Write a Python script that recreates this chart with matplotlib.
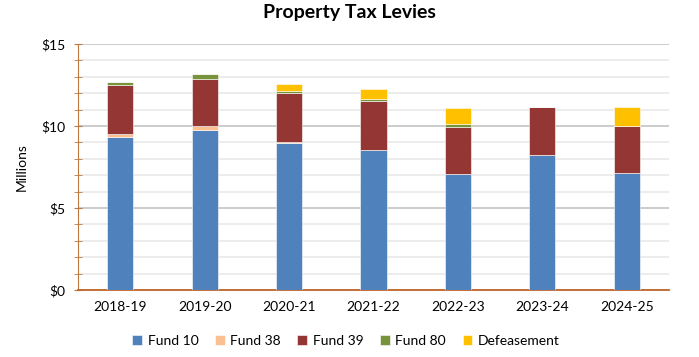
import matplotlib
matplotlib.use("Agg")
import matplotlib.pyplot as plt
from matplotlib.ticker import MultipleLocator, FuncFormatter
import numpy as np

# data (millions)
years = ["2018-19", "2019-20", "2020-21", "2021-22", "2022-23", "2023-24", "2024-25"]
fund10 = [9.31, 9.76, 8.94, 8.54, 7.05, 8.23, 7.11]
fund38 = [0.18, 0.22, 0.08, 0.0, 0.0, 0.0, 0.0]
fund39 = [3.01, 2.87, 3.01, 2.98, 2.91, 2.91, 2.91]
fund80 = [0.18, 0.32, 0.10, 0.13, 0.14, 0.0, 0.0]
defeasement = [0.0, 0.0, 0.43, 0.59, 1.0, 0.0, 1.12]

series = [
    ("Fund 10", fund10, "#4F81BD"),
    ("Fund 38", fund38, "#FAC090"),
    ("Fund 39", fund39, "#943634"),
    ("Fund 80", fund80, "#77933C"),
    ("Defeasement", defeasement, "#FFC000"),
]

plt.rcParams['font.family'] = ['Lato', 'DejaVu Sans']

fig = plt.figure(figsize=(6.99, 3.57), dpi=100)
ax = fig.add_axes([0.1116, 0.1877, 0.8454, 0.6891])

x = np.arange(len(years))
bottom = np.zeros(len(years))
for name, vals, color in series:
    vals = np.array(vals)
    ax.bar(x, vals, width=0.31, bottom=bottom, color=color, label=name,
           edgecolor="white", linewidth=0.4, zorder=3)
    bottom += vals

ax.set_xlim(-0.5, len(years) - 0.5)
ax.set_ylim(0, 15)
ax.set_xticks(x)
ax.set_xticklabels(years, fontsize=10)
ax.yaxis.set_major_locator(MultipleLocator(5))
ax.yaxis.set_minor_locator(MultipleLocator(1))
ax.yaxis.set_major_formatter(FuncFormatter(lambda v, p: "${:.0f}".format(v)))
ax.tick_params(axis="y", which="both", direction="inout", length=6,
               color="#C0783C", labelsize=10, pad=6)
ax.tick_params(axis="x", length=0, labelsize=10, pad=8)

ax.grid(axis="y", which="major", color="#C8C8C8", linewidth=1.3, zorder=0)
ax.grid(axis="y", which="minor", color="#EBEBEB", linewidth=1.3, zorder=0)
ax.set_axisbelow(True)

for s in ["top", "right"]:
    ax.spines[s].set_visible(False)
ax.spines["left"].set_color("#C0783C")
ax.spines["bottom"].set_color("#C0652B")
ax.spines["bottom"].set_linewidth(1.3)

ax.set_ylabel("Millions", fontsize=10, labelpad=10)
fig.suptitle("Property Tax Levies", fontsize=14, fontweight="bold", y=0.99)

fig.legend(loc="center", bbox_to_anchor=(0.495, 0.045), ncol=5, frameon=False,
           fontsize=10, handlelength=0.7, handleheight=0.7, handletextpad=0.4,
           columnspacing=1.2)

fig.savefig("out.png", dpi=100)
